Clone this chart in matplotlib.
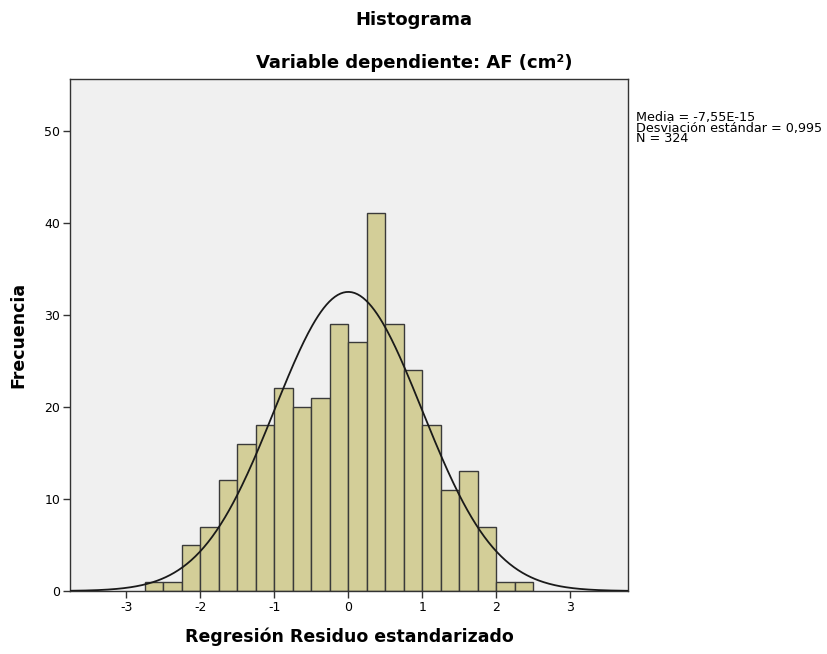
import numpy as np
import matplotlib
matplotlib.use("Agg")
import matplotlib.pyplot as plt

plt.rcParams['font.family'] = ['DejaVu Sans']
plt.rcParams['axes.unicode_minus'] = False

# histogram of standardized residuals, bins of width 0.25
bin_edges = [-2.75, -2.5, -2.25, -2.0, -1.75, -1.5, -1.25, -1.0, -0.75, -0.5, -0.25,
             0.0, 0.25, 0.5, 0.75, 1.0, 1.25, 1.5, 1.75, 2.0, 2.25, 2.5]
counts = [1, 1, 5, 7, 12, 16, 18, 22, 20, 21, 29,
          27, 41, 29, 24, 18, 11, 13, 7, 1, 1]
media = -7.55e-15
desv = 0.995
n_obs = 324
bin_w = 0.25

fig = plt.figure(figsize=(8.28, 6.54), dpi=100)
ax = fig.add_axes([0.0845, 0.0963, 0.674, 0.783])
ax.set_facecolor('#F0F0F0')

lefts = np.array(bin_edges[:-1])
ax.bar(lefts, counts, width=bin_w, align='edge', color='#D3CE98',
       edgecolor='#3a3a3a', linewidth=1.0, zorder=2)

# normal curve scaled to counts
xs = np.linspace(-3.8, 3.8, 400)
ys = n_obs * bin_w / (desv * np.sqrt(2 * np.pi)) * np.exp(-0.5 * ((xs - media) / desv) ** 2)
ax.plot(xs, ys, color='#1a1a1a', linewidth=1.3, zorder=3)

ax.set_xlim(-3.76, 3.78)
ax.set_ylim(0, 55.6)
ax.set_xticks([-3, -2, -1, 0, 1, 2, 3])
ax.set_yticks([0, 10, 20, 30, 40, 50])
ax.tick_params(labelsize=9, length=5, width=1, color='#333333', pad=2)
for sp in ax.spines.values():
    sp.set_color('#333333')
    sp.set_linewidth(1.0)

ax.set_xlabel('Regresión Residuo estandarizado', fontsize=12.5, fontweight='bold', labelpad=10)
ax.set_ylabel('Frecuencia', fontsize=12.5, fontweight='bold', labelpad=12)

fig.text(0.5, 1 - 20 / 654, 'Histograma', ha='center', va='center',
         fontsize=13, fontweight='bold')
fig.text(0.5, 1 - 63 / 654, 'Variable dependiente: AF (cm²)', ha='center', va='center',
         fontsize=13, fontweight='bold')

stats = 'Media = -7,55E-15\nDesviación estándar = 0,995\nN = 324'
fig.text(636 / 828, 1 - 111 / 654, stats, ha='left', va='top', fontsize=9.2, linespacing=0.76)

fig.savefig('out.png', dpi=100)
